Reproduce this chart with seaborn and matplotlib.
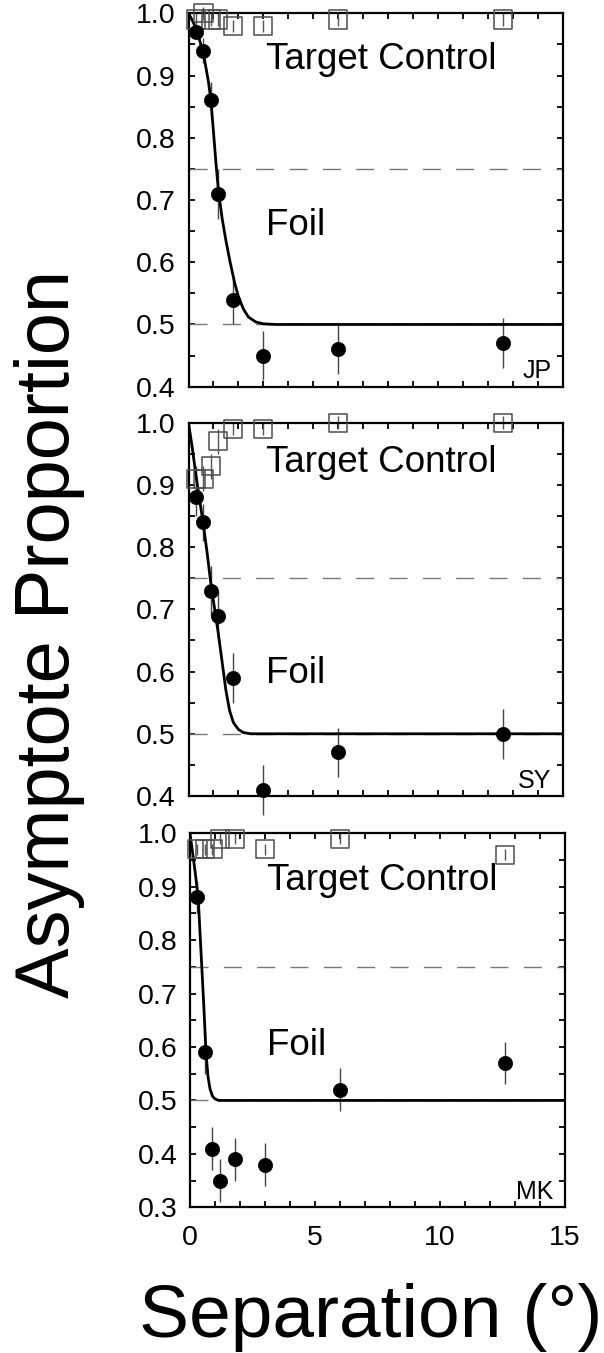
import numpy as np
import pandas as pd
import matplotlib
matplotlib.use("Agg")
import matplotlib.pyplot as plt
import matplotlib.ticker as mticker
import seaborn as sns

# ---------------- data ----------------
subjects = ["JP", "SY", "MK"]
separation = [0.3, 0.6, 0.9, 1.2, 1.8, 3.0, 6.0, 12.6]

foil_JP = [0.97, 0.94, 0.86, 0.71, 0.54, 0.45, 0.46, 0.47]
foil_err_JP = [0.01, 0.02, 0.03, 0.04, 0.04, 0.04, 0.04, 0.04]
control_JP = [0.99, 1.00, 0.99, 0.99, 0.98, 0.98, 0.99, 0.99]
control_err_JP = [0.01, 0.01, 0.01, 0.01, 0.01, 0.01, 0.01, 0.01]

foil_SY = [0.88, 0.84, 0.73, 0.69, 0.59, 0.41, 0.47, 0.50]
foil_err_SY = [0.03, 0.03, 0.04, 0.04, 0.04, 0.04, 0.04, 0.04]
control_SY = [0.91, 0.91, 0.93, 0.97, 0.99, 0.99, 1.00, 1.00]
control_err_SY = [0.02, 0.02, 0.02, 0.02, 0.01, 0.01, 0.01, 0.01]

foil_MK = [0.88, 0.59, 0.41, 0.35, 0.39, 0.38, 0.52, 0.57]
foil_err_MK = [0.03, 0.04, 0.04, 0.04, 0.04, 0.04, 0.04, 0.04]
control_MK = [0.97, 0.97, 0.97, 0.99, 0.99, 0.97, 0.99, 0.96]
control_err_MK = [0.01, 0.01, 0.01, 0.01, 0.01, 0.01, 0.01, 0.01]

# fitted curves
fit_x_JP = [0, 0.2, 0.4, 0.6, 0.8, 0.9, 1.0, 1.1, 1.2, 1.35, 1.5, 1.67, 1.85, 2.0, 2.2, 2.4, 2.7, 3.0, 3.5, 15]
fit_y_JP = [1.0, 0.985, 0.963, 0.935, 0.89, 0.86, 0.81, 0.76, 0.715, 0.67, 0.635, 0.60, 0.567, 0.545, 0.525, 0.512, 0.504, 0.501, 0.5, 0.5]

fit_x_SY = [0, 0.15, 0.3, 0.45, 0.6, 0.75, 0.9, 1.05, 1.2, 1.35, 1.5, 1.65, 1.8, 2.0, 2.2, 2.5, 15]
fit_y_SY = [1.0, 0.96, 0.915, 0.875, 0.835, 0.79, 0.74, 0.70, 0.66, 0.615, 0.57, 0.537, 0.518, 0.507, 0.502, 0.5, 0.5]

fit_x_MK = [0, 0.1, 0.2, 0.33, 0.45, 0.55, 0.64, 0.72, 0.8, 0.9, 1.0, 1.15, 1.3, 15]
fit_y_MK = [1.0, 0.965, 0.93, 0.878, 0.77, 0.68, 0.59, 0.545, 0.522, 0.508, 0.503, 0.5, 0.5, 0.5]

ylims = {"JP": (0.4, 1.0), "SY": (0.4, 1.0), "MK": (0.3, 1.0)}
x_ticks = [0, 5, 10, 15]
x_tick_labels = ["0", "5", "10", "15"]

panels = {
    "JP": (foil_JP, foil_err_JP, control_JP, control_err_JP, fit_x_JP, fit_y_JP),
    "SY": (foil_SY, foil_err_SY, control_SY, control_err_SY, fit_x_SY, fit_y_SY),
    "MK": (foil_MK, foil_err_MK, control_MK, control_err_MK, fit_x_MK, fit_y_MK),
}

# ---------------- style ----------------
sns.set_theme(style="ticks")
plt.rcParams["font.family"] = ["Liberation Sans", "DejaVu Sans"]
plt.rcParams["axes.linewidth"] = 1.6
for k in ("text.color", "axes.labelcolor", "xtick.color", "ytick.color", "axes.edgecolor"):
    plt.rcParams[k] = "black"

W, H = 604, 1353
fig = plt.figure(figsize=(W / 100, H / 100), dpi=100)

# axes boxes in pixels: left, top, right, bottom
boxes = {
    "JP": (188.5, 13.3, 562.5, 386.7),
    "SY": (188.5, 422.7, 562.5, 796.0),
    "MK": (190.0, 833.3, 564.5, 1207.3),
}
texts_pos = {"JP": (0.91, 0.644), "SY": (0.92, 0.582), "MK": (0.894, 0.585)}

for subj in subjects:
    foil, ferr, ctrl, cerr, fx, fy = panels[subj]
    l, t, r, b = boxes[subj]
    ax = fig.add_axes([l / W, 1 - b / H, (r - l) / W, (b - t) / H])
    ax.set_facecolor("white")

    # reference dashed lines
    for yref in (0.75, 0.5):
        ax.axhline(yref, color="#777777", lw=1.0, dashes=(13, 11), zorder=1)

    # fit curve
    sns.lineplot(x=fx, y=fy, ax=ax, color="black", lw=2.0, estimator=None,
                 sort=False, zorder=3)

    # control (open squares) with error bars
    ax.vlines(separation, np.array(ctrl) - np.array(cerr), np.array(ctrl) + np.array(cerr),
              color="#555555", lw=1.0, zorder=2, clip_on=False)
    sns.scatterplot(x=separation, y=ctrl, ax=ax, marker="s", s=170,
                    color="none", edgecolor="#4d4d4d", linewidth=1.1,
                    zorder=4, clip_on=False)

    # foil (filled circles) with error bars
    ax.vlines(separation, np.array(foil) - np.array(ferr), np.array(foil) + np.array(ferr),
              color="#444444", lw=1.0, zorder=2, clip_on=False)
    sns.scatterplot(x=separation, y=foil, ax=ax, marker="o", s=105,
                    color="black", edgecolor="black", linewidth=0.5,
                    zorder=5, clip_on=False)

    ax.set_xlim(0, 15)
    ax.set_ylim(*ylims[subj])
    ax.set_xticks(x_ticks)
    ax.xaxis.set_minor_locator(mticker.MultipleLocator(1))
    ax.yaxis.set_major_locator(mticker.MultipleLocator(0.1))
    ax.yaxis.set_minor_locator(mticker.MultipleLocator(0.05))
    ax.yaxis.set_major_formatter(mticker.FormatStrFormatter("%.1f"))
    ax.tick_params(which="both", direction="in", length=4.5, width=1.3,
                   top=True, right=True, labelsize=20.5, color="black",
                   labelcolor="black")
    ax.tick_params(axis="y", pad=9)
    ax.tick_params(axis="x", pad=13)
    if subj == "MK":
        ax.set_xticklabels(x_tick_labels)
    else:
        ax.set_xticklabels([])
    for sp in ax.spines.values():
        sp.set_visible(True)
        sp.set_linewidth(1.6)
        sp.set_color("black")
    ax.set_xlabel("")
    ax.set_ylabel("")

    ty, fy_ = texts_pos[subj]
    ax.text(3.1, ty, "Target Control", fontsize=26.5, ha="left", va="baseline",
            color="black", zorder=6)
    ax.text(3.1, fy_, "Foil", fontsize=26.5, ha="left", va="baseline",
            color="black", zorder=6)
    ax.text(0.97, 0.022, subj, transform=ax.transAxes, fontsize=18,
            ha="right", va="baseline", color="black", zorder=6)

fig.text(0.082, 1 - 634 / H, "Asymptote Proportion", rotation=90, fontsize=54.5,
         ha="center", va="center", color="black")
fig.text(371 / W, 1 - 1336.7 / H, "Separation (°)", fontsize=54,
         ha="center", va="baseline", color="black")

fig.savefig("out.png", dpi=100, facecolor="white")
